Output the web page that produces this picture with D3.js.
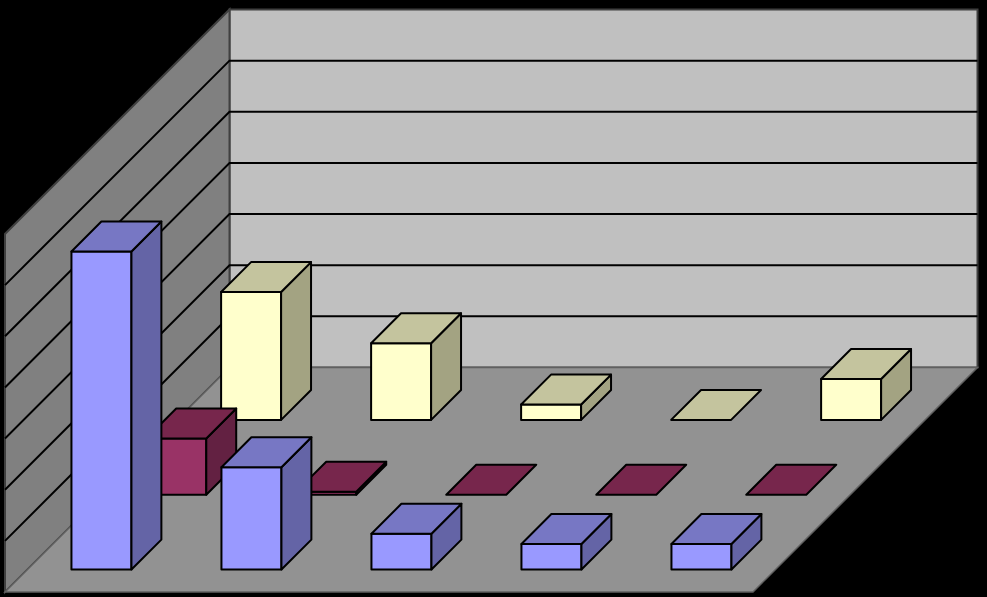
<!DOCTYPE html>
<html>
<head>
<meta charset="utf-8">
<script src="https://cdn.jsdelivr.net/npm/d3@7"></script>
<style>
  html, body { margin: 0; padding: 0; background: #000; overflow: hidden; }
  svg { display: block; }
</style>
</head>
<body>
<div id="chart"></div>
<script>
// values (axis steps of 20, the labels are not visible)
const categories = ['A', 'B', 'C', 'D', 'E'];
const seriesNames = ['blue', 'maroon', 'yellow'];
const blueValues = [124.4, 40, 14, 10, 10];
const maroonValues = [22, 1.2, 0, 0, 0];
const yellowValues = [50, 30, 6, 0, 16];
const gridTicks = [0, 20, 40, 60, 80, 100, 120, 140];

const seriesValues = { blue: blueValues, maroon: maroonValues, yellow: yellowValues };

const colours = {
    blue: { front: '#9999ff', top: '#7777c4', side: '#6464a6' },
    maroon: { front: '#993366', top: '#77264c', side: '#632142' },
    yellow: { front: '#ffffcc', top: '#c4c49e', side: '#a3a382' }
};

const width = 987;
const height = 597;

// floor corner at the front left, and the size of the box
const origin = { x: 5, y: 592 };
const floorWidth = 748;
const floorDepth = 224.5;

const uScale = d3.scaleBand()
    .domain(categories)
    .range([0, floorWidth])
    .paddingInner(0.6)
    .paddingOuter(0.2933);

const dScale = d3.scaleBand()
    .domain(seriesNames)
    .range([0, floorDepth])
    .paddingInner(0.6)
    .paddingOuter(0.3);

const yScale = d3.scaleLinear()
    .domain([0, 140])
    .range([0, 358]);

// oblique projection, depth goes up and right at 45 degrees
const project = (u, d, v) => [origin.x + u + d, origin.y - d - yScale(v)];
const line = d3.line();

const svg = d3.select('#chart')
    .append('svg')
    .attr('width', width)
    .attr('height', height);

// walls and floor
const walls = svg.append('g').attr('class', 'walls');

walls.append('path')
    .attr('d', line([project(0, floorDepth, 0), project(floorWidth, floorDepth, 0), project(floorWidth, floorDepth, 140), project(0, floorDepth, 140)]) + 'Z')
    .attr('fill', '#c0c0c0')
    .attr('stroke', '#404040')
    .attr('stroke-width', 2);

walls.append('path')
    .attr('d', line([project(0, 0, 0), project(0, floorDepth, 0), project(0, floorDepth, 140), project(0, 0, 140)]) + 'Z')
    .attr('fill', '#808080')
    .attr('stroke', '#404040')
    .attr('stroke-width', 2);

walls.append('path')
    .attr('d', line([project(0, 0, 0), project(floorWidth, 0, 0), project(floorWidth, floorDepth, 0), project(0, floorDepth, 0)]) + 'Z')
    .attr('fill', '#929292')
    .attr('stroke', '#606060')
    .attr('stroke-width', 1.5);

// gridlines, on both walls
walls.selectAll('path.grid')
    .data(gridTicks.filter(t => t > 0 && t < 140))
    .join('path')
    .attr('class', 'grid')
    .attr('fill', 'none')
    .attr('stroke', '#000')
    .attr('stroke-width', 2)
    .attr('d', t => line([project(0, 0, t), project(0, floorDepth, t), project(floorWidth, floorDepth, t)]));

// flat list of bars, the far series first so the near ones cover them
const bars = [];
seriesNames.slice().reverse().forEach(name => {
    categories.forEach((c, i) => {
        bars.push({ series: name, category: c, value: seriesValues[name][i] });
    });
});

const barGroups = svg.append('g')
    .attr('class', 'bars')
    .selectAll('g')
    .data(bars)
    .join('g')
    .attr('stroke', '#000')
    .attr('stroke-width', 2)
    .attr('stroke-linejoin', 'round');

function barFace(b, face) {
    const u0 = uScale(b.category);
    const u1 = u0 + uScale.bandwidth();
    const d0 = dScale(b.series);
    const d1 = d0 + dScale.bandwidth();
    const v = b.value;
    if (face === 'front') return [project(u0, d0, 0), project(u1, d0, 0), project(u1, d0, v), project(u0, d0, v)];
    if (face === 'side') return [project(u1, d0, 0), project(u1, d1, 0), project(u1, d1, v), project(u1, d0, v)];
    return [project(u0, d0, v), project(u1, d0, v), project(u1, d1, v), project(u0, d1, v)];
}

['front', 'side', 'top'].forEach(face => {
    barGroups.filter(b => face === 'top' || b.value > 0)
        .append('path')
        .attr('fill', b => colours[b.series][face])
        .attr('d', b => line(barFace(b, face)) + 'Z');
});
</script>
</body>
</html>
